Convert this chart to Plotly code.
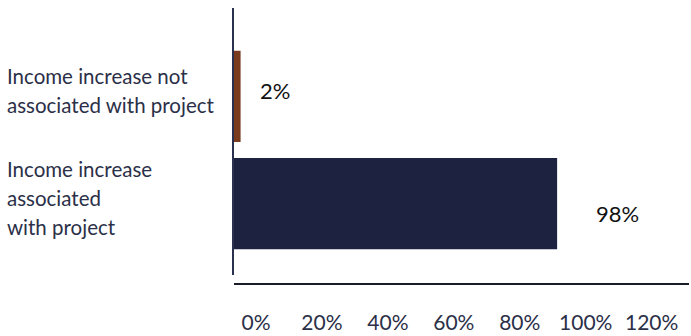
import plotly.graph_objects as go

# Share of respondents by source of income increase (top to bottom)
categories = [
    "Income increase not<br>associated with project",
    "Income increase<br>associated<br>with project",
]
shares = [0.02, 0.98]
value_labels = ["2%", "98%"]
bar_colors = ["#7A3A1D", "#1C2240"]

tick_values = [0, 0.2, 0.4, 0.6, 0.8, 1.0, 1.2]
tick_labels = ["0%", "20%", "40%", "60%", "80%", "100%", "120%"]

# label offsets in pixels (x, y) for the value labels
value_offsets = [(17, 6), (37, -10)]

label_font = "Lato, 'Open Sans', sans-serif"
label_color = "#2B3048"

fig = go.Figure()
fig.add_trace(go.Bar(
    y=categories,
    x=shares,
    orientation="h",
    marker=dict(color=bar_colors, line=dict(width=0)),
    width=0.852,
    hoverinfo="skip",
))

annotations = []
for cat, val, txt, (dx, dy) in zip(categories, shares, value_labels, value_offsets):
    annotations.append(dict(
        x=val, y=cat, xref="x", yref="y", text=txt, showarrow=False,
        xanchor="left", yanchor="middle", xshift=dx, yshift=dy,
        font=dict(family=label_font, size=22, color="#111111"),
    ))

# category labels, left aligned, drawn line by line with a 29 px leading
line_gap = 29
for cat in categories:
    lines = cat.split("<br>")
    n = len(lines)
    for i, line in enumerate(lines):
        annotations.append(dict(
            x=-0.503, y=cat, xref="paper", yref="y", text=line, showarrow=False,
            xanchor="left", yanchor="middle",
            yshift=((n - 1) / 2 - i) * line_gap + 6,
            font=dict(family=label_font, size=20.5, color=label_color),
        ))

fig.update_layout(
    width=691, height=336,
    margin=dict(l=234, r=2, t=8, b=50),
    paper_bgcolor="white", plot_bgcolor="white",
    showlegend=False,
    annotations=annotations,
    xaxis=dict(
        range=[0, 1.38], anchor="free", position=0,
        tickvals=tick_values, ticktext=tick_labels,
        showgrid=False, zeroline=False,
        showline=True, linecolor="#1A1C2A", linewidth=2,
        ticks="", ticklabelshift=22, ticklabelstandoff=20,
        tickfont=dict(family=label_font, size=21, color=label_color),
    ),
    yaxis=dict(
        domain=[0.032, 1], type="category",
        range=[1.667, -0.824],
        showticklabels=False, showgrid=False, zeroline=False,
        showline=True, linecolor="#2A3150", linewidth=1.5,
        ticks="",
    ),
)

fig.write_html("out.html")
